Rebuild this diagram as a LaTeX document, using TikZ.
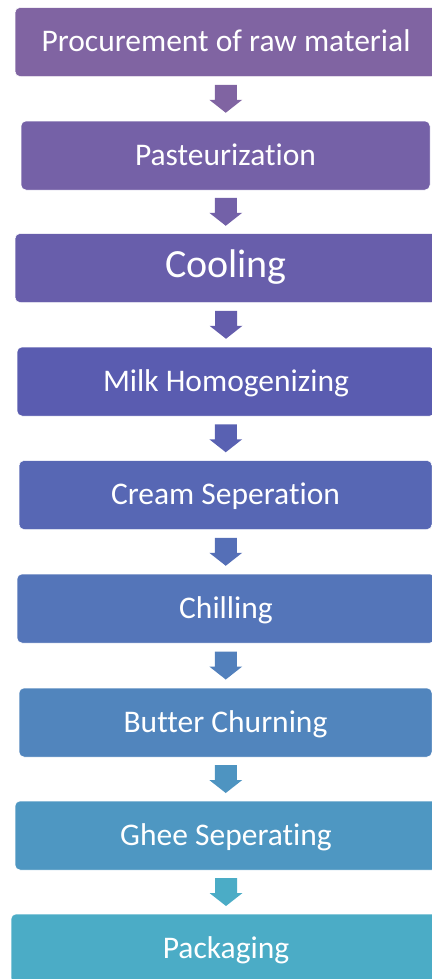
\documentclass[tikz,border=0pt]{standalone}
\usepackage{fontspec}
\setmainfont[RawFeature={-liga}]{Carlito}
\usetikzlibrary{calc}
\definecolor{c0}{HTML}{8064A2}
\definecolor{c1}{HTML}{7561A7}
\definecolor{c2}{HTML}{685EAB}
\definecolor{c3}{HTML}{5A5CB0}
\definecolor{c4}{HTML}{5767B4}
\definecolor{c5}{HTML}{5475B9}
\definecolor{c6}{HTML}{5185BD}
\definecolor{c7}{HTML}{4E97C2}
\definecolor{c8}{HTML}{4BACC6}
\tikzset{
  box/.style={rectangle, rounded corners=5bp, draw=white, line width=0.5bp,
    minimum height=69bp, inner sep=0pt, text=white,
    text height=25bp, text depth=6bp,
    font=\fontsize{31.5bp}{36bp}\selectfont},
  bigtext/.style={font=\fontsize{40bp}{44bp}\selectfont},
}
\newcommand\flowarr[3]{%
  \path[fill=#3] let \p1=($(#1.south)!0.5!(#2.north)$) in
    (\x1-11bp,\y1+14bp) -- (\x1+11bp,\y1+14bp) -- (\x1+11bp,\y1-1bp) --
    (\x1+16.5bp,\y1-1bp) -- (\x1,\y1-14bp) -- (\x1-16.5bp,\y1-1bp) --
    (\x1-11bp,\y1-1bp) -- cycle;}
\begin{document}
\begin{tikzpicture}
\useasboundingbox (0,0) rectangle (432bp,-979bp);
\node[box, fill=c0, minimum width=422bp] (b1) at (226bp,-42bp) {Procurement of raw material};
\node[box, fill=c1, minimum width=409bp] (b2) at (225.5bp,-155.5bp) {Pasteurization};
\node[box, fill=c2, minimum width=422bp, bigtext] (b3) at (226bp,-268bp) {Cooling};
\node[box, fill=c3, minimum width=418bp] (b4) at (226bp,-381.5bp) {Milk Homogenizing};
\node[box, fill=c4, minimum width=413bp] (b5) at (225.5bp,-495bp) {Cream Seperation};
\node[box, fill=c5, minimum width=418bp] (b6) at (226bp,-608.5bp) {Chilling};
\node[box, fill=c6, minimum width=413bp] (b7) at (225.5bp,-722.5bp) {Butter Churning};
\node[box, fill=c7, minimum width=422bp] (b8) at (226bp,-835.5bp) {Ghee Seperating};
\node[box, fill=c8, minimum width=430bp] (b9) at (226bp,-948.5bp) {Packaging};
\flowarr{b1}{b2}{c0}
\flowarr{b2}{b3}{c1!86!c2}
\flowarr{b3}{b4}{c2!71!c3}
\flowarr{b4}{b5}{c3!57!c4}
\flowarr{b5}{b6}{c4!43!c5}
\flowarr{b6}{b7}{c5!29!c6}
\flowarr{b7}{b8}{c6!14!c7}
\flowarr{b8}{b9}{c8}
\end{tikzpicture}
\end{document}
